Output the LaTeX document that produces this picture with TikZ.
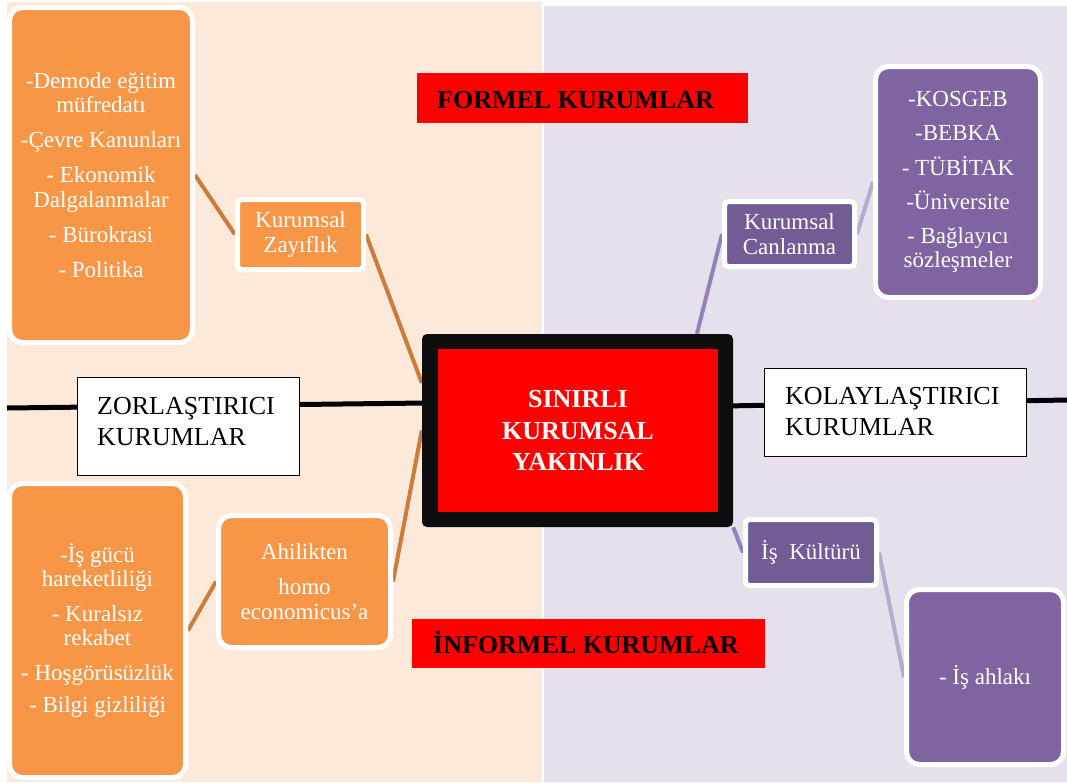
\documentclass[tikz,border=0pt]{standalone}
\usepackage{fontspec}
\setmainfont{Liberation Serif}

\definecolor{peach}{HTML}{FDE9D9}
\definecolor{lavender}{HTML}{E5E0EC}
\definecolor{orangebox}{HTML}{F79646}
\definecolor{orangelink}{RGB}{204,124,58}
\definecolor{purplebox}{HTML}{8064A2}
\definecolor{purplesmall}{RGB}{115,91,150}
\definecolor{purplelink}{RGB}{150,128,184}
\definecolor{purplelinklight}{RGB}{182,170,205}

\newcommand\cardfont{\fontsize{23}{24.5}\selectfont}
\newcommand\headfont{\fontsize{26}{31}\selectfont}

\pgfdeclarelayer{panel}
\pgfdeclarelayer{links}
\pgfsetlayers{panel,links,main}

\tikzset{
  card/.style={draw=white, line width=5pt, text=white, align=center,
    inner sep=0pt, font=\cardfont},
  bigcard/.style={card, rounded corners=13pt},
  smallcard/.style={card, rounded corners=4pt},
  framebox/.style={draw=black, line width=1pt, fill=white, inner sep=0pt},
  redbar/.style={fill=red, inner sep=0pt},
  headtext/.style={inner sep=0pt, font=\headfont, align=left},
  axis/.style={black, line width=5pt},
  orangeline/.style={orangelink, line width=4pt},
  purpleline/.style={purplelink, line width=4pt},
  purplelinelight/.style={purplelinklight, line width=4pt},
}

\begin{document}
\begin{tikzpicture}[x=1pt, y=-1pt]
  \useasboundingbox (0,0) rectangle (1067,782);

  % two background panels
  \begin{pgfonlayer}{panel}
    \fill[white] (0,0) rectangle (1067,782);
    \fill[peach] (7,2) rectangle (542,782);
    \fill[lavender] (544,6) rectangle (1067,782);
  \end{pgfonlayer}

  % centre
  \node[fill=black!95, rounded corners=5pt, minimum width=311pt, minimum height=193pt, inner sep=0pt] (core) at (577.5,430.5) {};
  \node[fill=red, minimum width=280pt, minimum height=163pt, inner sep=0pt, text=white,
        align=center, font=\fontsize{26}{31.5}\selectfont\bfseries] (coretext) at (578,430.5)
        {SINIRLI\\KURUMSAL\\YAKINLIK};

  % titles
  \node[redbar, minimum width=331pt, minimum height=50pt] (formel) at (582.5,98) {};
  \node[inner sep=0pt, anchor=base west, font=\headfont\bfseries] (formeltext) at (437,108) {FORMEL KURUMLAR};
  \node[redbar, minimum width=353pt, minimum height=49pt] (informel) at (588.5,643.5) {};
  \node[inner sep=0pt, anchor=base west, font=\headfont\bfseries] (informeltext) at (433,653) {İNFORMEL KURUMLAR};

  % framed side labels
  \node[framebox, minimum width=222pt, minimum height=98pt] (zor) at (188,426) {};
  \node[headtext, anchor=north west] (zortext) at (97,397) {ZORLAŞTIRICI\\KURUMLAR};
  \node[framebox, minimum width=262pt, minimum height=88pt] (kol) at (895,412) {};
  \node[headtext, anchor=north west] (koltext) at (785,387) {KOLAYLAŞTIRICI\\KURUMLAR};

  % left side cards
  \node[bigcard, fill=orangebox, minimum width=183pt, minimum height=335pt] (weakitems) at (101,175)
    {-Demode eğitim\\müfredatı\\[10.5pt]-Çevre Kanunları\\[10.5pt]- Ekonomik\\Dalgalanmalar\\[10.5pt]- Bürokrasi\\[10.5pt]- Politika};
  \node[smallcard, fill=orangebox, minimum width=126pt, minimum height=70pt] (weak) at (300.5,234.5)
    {Kurumsal\\Zayıflık};
  \node[bigcard, fill=orangebox, minimum width=176pt, minimum height=294pt] (homoitems) at (97.5,630.5)
    {-İş gücü\\hareketliliği\\[10pt]- Kuralsız\\rekabet\\[10pt]- Hoşgörüsüzlük\\[8pt]- Bilgi gizliliği};
  \node[bigcard, fill=orangebox, minimum width=172pt, minimum height=132pt] (homo) at (304.5,581.5)
    {Ahilikten\\[10.5pt]homo\\economicus’a};

  % right side cards
  \node[smallcard, fill=purplesmall, minimum width=130pt, minimum height=65pt] (revive) at (789.5,234)
    {Kurumsal\\Canlanma};
  \node[bigcard, fill=purplebox, minimum width=165pt, minimum height=231pt] (reviveitems) at (958,182)
    {-KOSGEB\\[10pt]-BEBKA\\[10pt]- TÜBİTAK\\[10pt]-Üniversite\\[9pt]- Bağlayıcı\\sözleşmeler};
  \node[smallcard, fill=purplesmall, minimum width=131pt, minimum height=66pt] (culture) at (811,552.5)
    {İş\ \ Kültürü};
  \node[bigcard, fill=purplebox, minimum width=157pt, minimum height=175pt] (ethics) at (985,677)
    {- İş ahlakı};

  % connectors
  \coordinate (leftend) at (7,408);
  \coordinate (rightend) at (1067,400);
  \begin{pgfonlayer}{links}
    \draw[axis] (leftend) -- (core.170);
    \draw[axis] (core.9) -- (rightend);
    \draw[orangeline] (weakitems.east) -- (weak.west);
    \draw[orangeline] (weak.east) -- (core.163);
    \draw[orangeline] (homo.east) -- (core.west);
    \draw[orangeline] (homo.west) -- (homoitems.east);
    \draw[purpleline] (core.39) -- (revive.west);
    \draw[purplelinelight] (revive.east) -- (reviveitems.west);
    \draw[purpleline] (core.south east) -- (culture.west);
    \draw[purplelinelight] (culture.east) -- (ethics.west);
  \end{pgfonlayer}
\end{tikzpicture}
\end{document}
